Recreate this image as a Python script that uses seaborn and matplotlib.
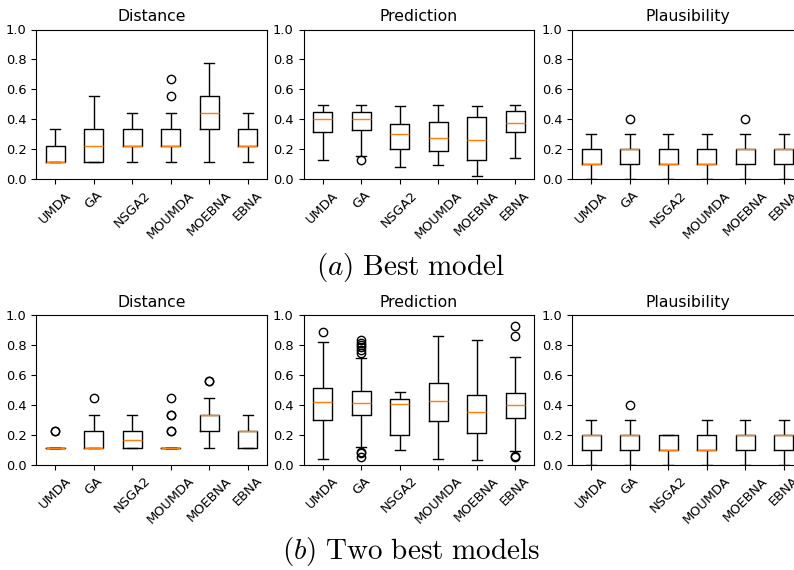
import pandas as pd
import seaborn as sns
import matplotlib.pyplot as plt

plt.rcParams["mathtext.fontset"] = "cm"
plt.rcParams["font.size"] = 9.4

methods = ["UMDA", "GA", "NSGA2", "MOUMDA", "MOEBNA", "EBNA"]
metrics = ["Distance", "Prediction", "Plausibility"]

# ---- (a) Best model ----
best_distance = {
    "UMDA": [0.111, 0.111, 0.111, 0.111, 0.111, 0.222, 0.222, 0.333],
    "GA": [0.111, 0.111, 0.111, 0.222, 0.333, 0.333, 0.556],
    "NSGA2": [0.111, 0.222, 0.222, 0.222, 0.333, 0.333, 0.444],
    "MOUMDA": [0.111, 0.222, 0.222, 0.222, 0.222, 0.222, 0.222,
               0.333, 0.333, 0.333, 0.444, 0.556, 0.667],
    "MOEBNA": [0.111, 0.333, 0.333, 0.444, 0.444, 0.556, 0.556, 0.778],
    "EBNA": [0.111, 0.222, 0.222, 0.222, 0.333, 0.333, 0.444],
}
best_prediction = {
    "UMDA": [0.127, 0.312, 0.399, 0.45, 0.494],
    "GA": [0.127, 0.154, 0.325, 0.325, 0.40, 0.45, 0.45, 0.47, 0.494],
    "NSGA2": [0.078, 0.198, 0.298, 0.367, 0.488],
    "MOUMDA": [0.091, 0.187, 0.276, 0.383, 0.494],
    "MOEBNA": [0.02, 0.127, 0.26, 0.416, 0.488],
    "EBNA": [0.138, 0.312, 0.372, 0.457, 0.494],
}
best_plausibility = {
    "UMDA": [0.0, 0.1, 0.1, 0.1, 0.2, 0.2, 0.3],
    "GA": [0.0, 0.1, 0.1, 0.2, 0.2, 0.2, 0.2, 0.3, 0.4],
    "NSGA2": [0.0, 0.1, 0.1, 0.1, 0.2, 0.2, 0.3],
    "MOUMDA": [0.0, 0.1, 0.1, 0.1, 0.2, 0.2, 0.3],
    "MOEBNA": [0.0, 0.1, 0.1, 0.2, 0.2, 0.2, 0.2, 0.3, 0.4],
    "EBNA": [0.0, 0.1, 0.1, 0.2, 0.2, 0.2, 0.2, 0.3],
}

# ---- (b) Two best models ----
two_distance = {
    "UMDA": [0.111, 0.111, 0.111, 0.111, 0.111, 0.111, 0.111, 0.111,
             0.222, 0.222],
    "GA": [0.111, 0.111, 0.111, 0.111, 0.111, 0.222, 0.222, 0.333, 0.444],
    "NSGA2": [0.111, 0.111, 0.111, 0.222, 0.222, 0.333],
    "MOUMDA": [0.111, 0.111, 0.111, 0.111, 0.111, 0.111, 0.111, 0.111,
               0.111, 0.111, 0.111, 0.111, 0.111, 0.111, 0.111, 0.111,
               0.222, 0.222, 0.333, 0.333, 0.444],
    "MOEBNA": [0.111, 0.222, 0.222, 0.222, 0.333, 0.333, 0.333, 0.333,
               0.333, 0.333, 0.444, 0.556, 0.556],
    "EBNA": [0.111, 0.111, 0.111, 0.222, 0.222, 0.222, 0.222, 0.333],
}
two_prediction = {
    "UMDA": [0.04, 0.2, 0.297, 0.35, 0.42, 0.47, 0.513, 0.821, 0.886],
    "GA": [0.052, 0.074, 0.085, 0.114, 0.2, 0.26, 0.3, 0.33,
           0.35, 0.365, 0.375, 0.385, 0.395, 0.405, 0.413,
           0.425, 0.435, 0.445, 0.46, 0.47, 0.48, 0.491,
           0.714, 0.745, 0.765, 0.785, 0.80, 0.815, 0.83],
    "NSGA2": [0.096, 0.199, 0.402, 0.435, 0.487],
    "MOUMDA": [0.04, 0.292, 0.426, 0.547, 0.862],
    "MOEBNA": [0.033, 0.214, 0.348, 0.464, 0.833],
    "EBNA": [0.05, 0.054, 0.089, 0.31, 0.34, 0.37, 0.397, 0.42, 0.45,
             0.48, 0.717, 0.859, 0.926],
}
two_plausibility = {
    "UMDA": [0.0, 0.1, 0.1, 0.2, 0.2, 0.2, 0.2, 0.3],
    "GA": [0.0, 0.1, 0.1, 0.2, 0.2, 0.2, 0.2, 0.3, 0.4],
    "NSGA2": [0.0, 0.1, 0.1, 0.1, 0.2, 0.2, 0.2],
    "MOUMDA": [0.0, 0.1, 0.1, 0.1, 0.2, 0.2, 0.3],
    "MOEBNA": [0.0, 0.1, 0.1, 0.2, 0.2, 0.2, 0.2, 0.3],
    "EBNA": [0.0, 0.1, 0.1, 0.2, 0.2, 0.2, 0.2, 0.3],
}

rows = [
    [best_distance, best_prediction, best_plausibility],
    [two_distance, two_prediction, two_plausibility],
]
captions = [r"$(a)\ \mathrm{Best\ model}$", r"$(b)\ \mathrm{Two\ best\ models}$"]


def to_long(d):
    recs = []
    for m in methods:
        for v in d[m]:
            recs.append({"method": m, "value": v})
    return pd.DataFrame(recs)


W, H = 794, 570
fig = plt.figure(figsize=(W / 100, H / 100), dpi=100)

lefts = [36, 303.5, 572]
tops = [29.5, 315]
pw, ph = 231, 149.5

for r, row in enumerate(rows):
    for c, d in enumerate(row):
        ax = fig.add_axes([lefts[c] / W, 1 - (tops[r] + ph) / H, pw / W, ph / H])
        sns.boxplot(data=to_long(d), x="method", y="value", order=methods,
                    ax=ax, width=0.5, fill=False, color="black", linewidth=1,
                    whis=1.5, fliersize=6,
                    medianprops={"color": "#ff7f0e"},
                    flierprops={"marker": "o", "markerfacecolor": "none",
                                "markeredgecolor": "black"})
        ax.set_ylim(0, 1)
        ax.set_yticks([0, 0.2, 0.4, 0.6, 0.8, 1.0])
        ax.set_xlim(-0.5, 5.5)
        ax.set_title(metrics[c])
        ax.set_xlabel("")
        ax.set_ylabel("")
        ax.tick_params(axis="x", labelrotation=45)
        for lab in ax.get_xticklabels():
            lab.set_ha("center")
    fig.text(411 / W, 1 - [268, 552][r] / H, captions[r], fontsize=21,
             ha="center", va="center")

fig.savefig("out.png", dpi=100)
